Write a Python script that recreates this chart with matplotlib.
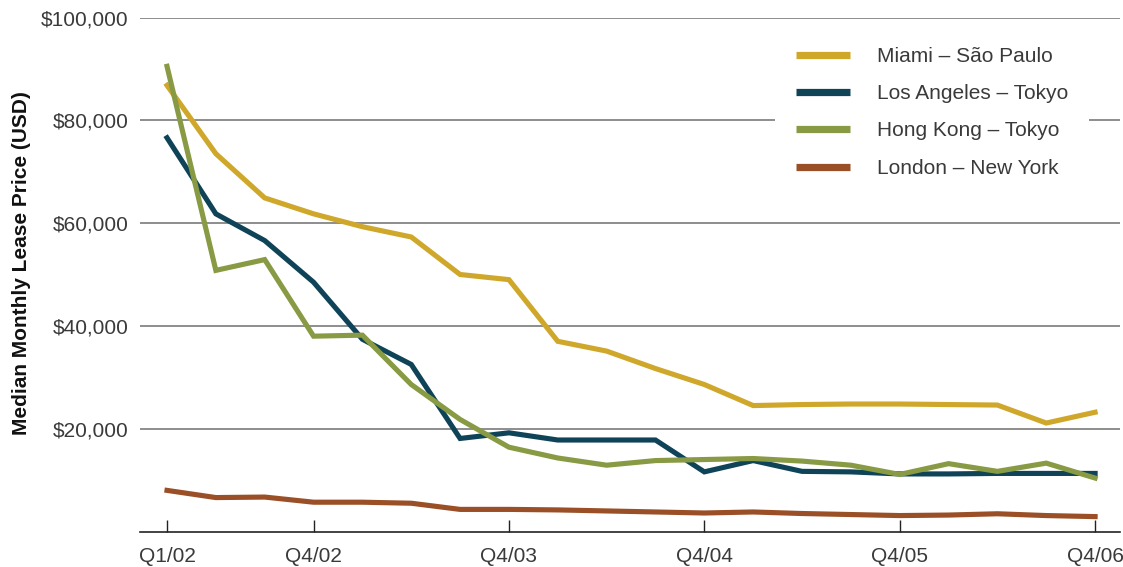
import matplotlib
matplotlib.use("Agg")
import matplotlib.pyplot as plt

plt.rcParams["font.family"] = ["Liberation Sans", "DejaVu Sans"]

quarters = ["Q1/02", "Q2/02", "Q3/02", "Q4/02",
            "Q1/03", "Q2/03", "Q3/03", "Q4/03",
            "Q1/04", "Q2/04", "Q3/04", "Q4/04",
            "Q1/05", "Q2/05", "Q3/05", "Q4/05",
            "Q1/06", "Q2/06", "Q3/06", "Q4/06"]
tick_labels = ["Q1/02", "Q4/02", "Q4/03", "Q4/04", "Q4/05", "Q4/06"]

miami_sao_paulo = [86800, 73500, 64900, 61800, 59300, 57300, 50000, 49000, 37000, 35100,
                   31700, 28600, 24500, 24700, 24800, 24800, 24700, 24600, 21100, 23200]
los_angeles_tokyo = [76600, 61800, 56600, 48500, 37400, 32500, 18100, 19200, 17800, 17800,
                     17800, 11600, 13800, 11700, 11600, 11200, 11200, 11300, 11300, 11300]
hong_kong_tokyo = [90500, 50800, 52900, 38000, 38200, 28600, 21800, 16400, 14300, 12900,
                   13800, 14000, 14200, 13700, 12900, 11100, 13200, 11700, 13300, 10400]
london_new_york = [8000, 6600, 6700, 5700, 5700, 5500, 4300, 4300, 4200, 4000,
                   3800, 3600, 3800, 3500, 3300, 3100, 3200, 3450, 3100, 2900]

series = [
    ("Miami \u2013 S\u00e3o Paulo", miami_sao_paulo, "#CFA82B"),
    ("Los Angeles \u2013 Tokyo", los_angeles_tokyo, "#0F4458"),
    ("Hong Kong \u2013 Tokyo", hong_kong_tokyo, "#889A44"),
    ("London \u2013 New York", london_new_york, "#9A4F26"),
]

W, H = 1123, 567
fig = plt.figure(figsize=(W / 100, H / 100), dpi=100)
ax = fig.add_axes([140 / W, 1 - 531.5 / H, (1120 - 140) / W, (531.5 - 17.5) / H])

x = list(range(len(quarters)))
for name, vals, col in series:
    ax.plot(x, vals, color=col, lw=3.7, label=name, solid_joinstyle="miter", zorder=3)

ax.set_ylim(0, 100000)
ax.set_xlim(-0.553, 19.51)
ax.set_yticks([20000, 40000, 60000, 80000, 100000])
ax.set_yticklabels([f"${v:,}" for v in [20000, 40000, 60000, 80000, 100000]])
ax.set_xticks([quarters.index(t) for t in tick_labels])
ax.set_xticklabels(tick_labels)

ax.tick_params(axis="y", length=0, pad=8, labelsize=15, labelcolor="#3a3a3a")
ax.tick_params(axis="x", direction="in", length=9, width=1, color="#222222",
               pad=11, labelsize=15, labelcolor="#3a3a3a")

ax.grid(axis="y", color="#7a7a7a", lw=1.2, zorder=1)
ax.set_axisbelow(True)
for s in ["top", "right", "left"]:
    ax.spines[s].set_visible(False)
ax.spines["bottom"].set_color("#222222")
ax.spines["bottom"].set_linewidth(1.2)

fig.text(22 / W, 1 - 263.5 / H, "Median Monthly Lease Price (USD)", rotation=90,
         ha="center", va="center", fontsize=15, fontweight="bold", color="#111111")

leg = ax.legend(loc="upper left", bbox_to_anchor=(775 / W, 1 - 26 / H),
                bbox_transform=fig.transFigure, fontsize=15, frameon=True,
                fancybox=False, handlelength=2.6, handletextpad=1.3,
                labelspacing=0.88, borderpad=1.0, borderaxespad=0)
leg.get_frame().set_facecolor("white")
leg.get_frame().set_edgecolor("none")
leg.get_frame().set_alpha(1)
for line, text in zip(leg.get_lines(), leg.get_texts()):
    line.set_linewidth(5.2)
    line.set_solid_capstyle("butt")
    text.set_color("#3a3a3a")
leg.set_zorder(5)

fig.savefig("out.png", dpi=100)
